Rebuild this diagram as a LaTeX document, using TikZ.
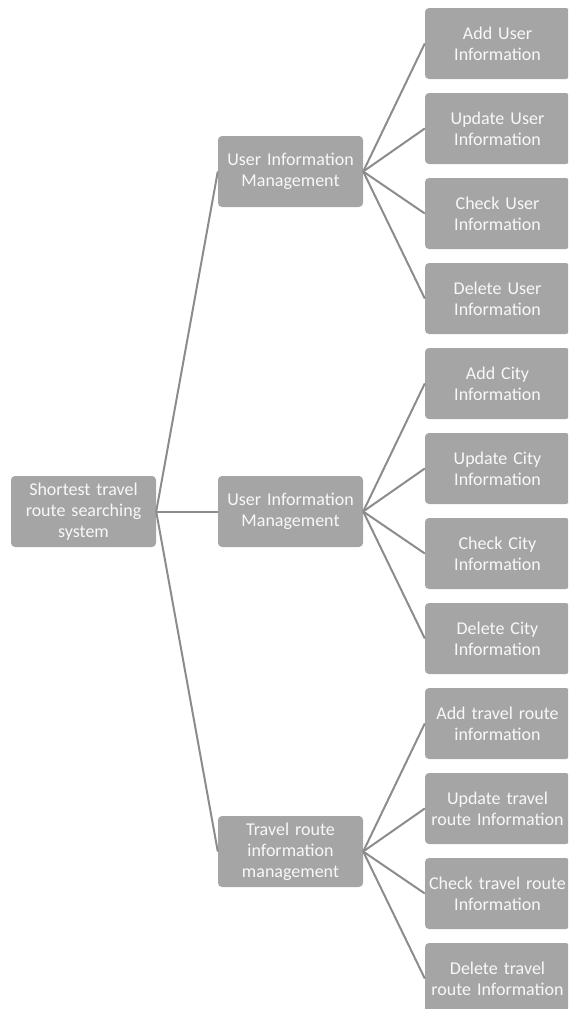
\documentclass[tikz,border=0pt]{standalone}
\usepackage{fontspec}
\setmainfont{Carlito}
\definecolor{boxgray}{HTML}{A5A5A5}
\definecolor{linegray}{HTML}{8C8C8C}
\definecolor{txt}{HTML}{F8F8F8}
\tikzset{
  bx/.style={draw=none, fill=boxgray, rounded corners=4pt, minimum width=145pt, minimum height=71pt,
    text=txt, align=center, font=\fontsize{18}{21}\selectfont, inner sep=0pt, text width=141pt},
  cn/.style={draw=linegray, line width=2pt}
}
\begin{document}
\begin{tikzpicture}[x=1pt,y=-1pt]
\useasboundingbox (0,0) rectangle (568,1009);
\clip (0,0) rectangle (568,1009);
\node[bx] (root) at (83.5,511.5) {Shortest travel\\route searching\\system};
\node[bx] (m1) at (290.5,171.5) {User Information\\Management};
\node[bx] (m2) at (290.5,511.5) {User Information\\Management};
\node[bx] (m3) at (290.5,851.5) {Travel route\\information\\management};
\node[bx] (l1) at (497.5,43.5) {Add User\\Information};
\node[bx] (l2) at (497.5,128.5) {Update User\\Information};
\node[bx] (l3) at (497.5,213.5) {Check User\\Information};
\node[bx] (l4) at (497.5,298.5) {Delete User\\Information};
\node[bx] (l5) at (497.5,383.5) {Add City\\Information};
\node[bx] (l6) at (497.5,468.5) {Update City\\Information};
\node[bx] (l7) at (497.5,553.5) {Check City\\Information};
\node[bx] (l8) at (497.5,638.5) {Delete City\\Information};
\node[bx] (l9) at (497.5,723.5) {Add travel route\\information};
\node[bx] (l10) at (497.5,808.5) {Update travel\\route Information};
\node[bx] (l11) at (497.5,893.5) {Check travel route\\Information};
\node[bx] (l12) at (497.5,978.5) {Delete travel\\route Information};
\foreach \m in {m1,m2,m3} \draw[cn] (root.east) -- (\m.west);
\foreach \l in {l1,l2,l3,l4} \draw[cn] (m1.east) -- (\l.west);
\foreach \l in {l5,l6,l7,l8} \draw[cn] (m2.east) -- (\l.west);
\foreach \l in {l9,l10,l11,l12} \draw[cn] (m3.east) -- (\l.west);
\end{tikzpicture}
\end{document}
